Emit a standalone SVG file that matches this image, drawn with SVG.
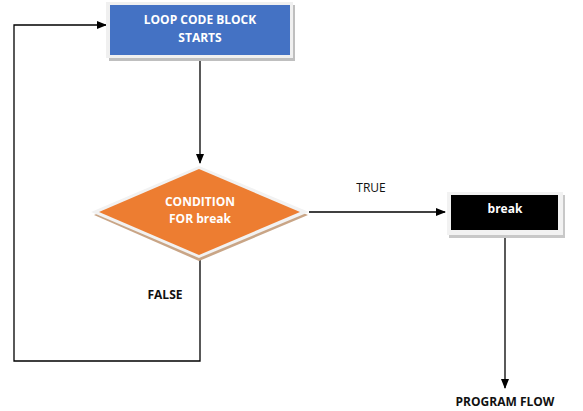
<svg xmlns="http://www.w3.org/2000/svg" width="583" height="411" viewBox="0 0 583 411">
<defs>
<marker id="arr" markerWidth="10" markerHeight="8" refX="9" refY="4" orient="auto" markerUnits="userSpaceOnUse">
<path d="M0,0 L10,4 L0,8 z" fill="#000"/>
</marker>
<style>
.lbl{font-family:"Open Sans","Liberation Sans",sans-serif;font-size:12px;text-anchor:middle}
.wb{fill:#fff;font-weight:bold}
.db{fill:#111;font-weight:bold}
.ln{fill:none;stroke:#000;stroke-width:1.3}
</style>
</defs>
<rect width="583" height="411" fill="#fff"/>
<g id="connectors">
<path class="ln" d="M200,61 V163" marker-end="url(#arr)"/>
<path class="ln" d="M200,256 V361 H14 V25 H106" marker-end="url(#arr)"/>
<path class="ln" d="M309,212 H445" marker-end="url(#arr)"/>
<path class="ln" stroke="#333" d="M505,233 V388" marker-end="url(#arr)"/>
</g>
<g id="start">
<rect x="109" y="5" width="186" height="56" fill="#bfbfbf"/>
<rect x="106" y="2" width="187" height="56" fill="#f0f0f0"/>
<rect x="110" y="5" width="180" height="50" fill="#4472c4"/>
<text class="lbl wb" x="200" y="24">LOOP CODE BLOCK</text>
<text class="lbl wb" x="200" y="42">STARTS</text>
</g>
<g id="condition">
<polygon points="199,170 94,215 199,261 308,215" fill="#c9a586"/>
<polygon points="199,166 91,212 199,258 309,212" fill="#f2f2f2"/>
<polygon points="199,169 99,212 199,255 300,212" fill="#ed7d31"/>
<text class="lbl wb" x="200" y="206">CONDITION</text>
<text class="lbl wb" x="200" y="223">FOR break</text>
</g>
<g id="break">
<rect x="449" y="195" width="116" height="43" fill="#c8c8c8"/>
<rect x="447" y="192" width="116" height="43" fill="#f2f2f2"/>
<rect x="451" y="195" width="107" height="35" fill="#000"/>
<text class="lbl wb" x="505" y="213">break</text>
</g>
<g id="labels">
<text class="lbl" x="371" y="192" fill="#111">TRUE</text>
<text class="lbl db" x="165" y="299">FALSE</text>
<text class="lbl db" x="505" y="406">PROGRAM FLOW</text>
</g>
</svg>
